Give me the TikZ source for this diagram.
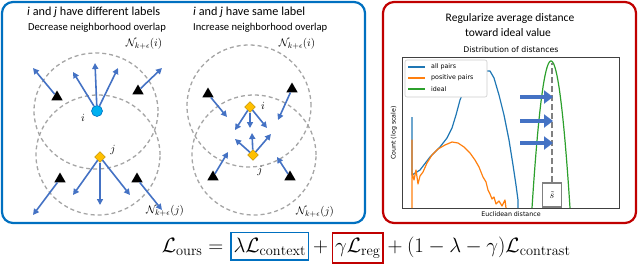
\documentclass[tikz,border=0pt]{standalone}
\usepackage{fontspec}
\usetikzlibrary{shapes.geometric,arrows.meta}
\newfontfamily\carl{Carlito}
\newfontfamily\dvs{DejaVu Sans}
\definecolor{boxblue}{RGB}{0,112,192}
\definecolor{boxred}{RGB}{192,0,0}
\definecolor{arrblue}{RGB}{68,114,196}
\definecolor{dotcyan}{RGB}{0,176,240}
\definecolor{diayel}{RGB}{255,192,0}
\definecolor{circgray}{RGB}{165,165,165}
\definecolor{pltblue}{RGB}{31,119,180}
\definecolor{pltorange}{RGB}{255,127,14}
\definecolor{pltgreen}{RGB}{44,160,44}
\begin{document}
\begin{tikzpicture}[x=1pt,y=-1pt,
  panel/.style={line width=2.2pt, rounded corners=11pt},
  dcirc/.style={draw=circgray, line width=1.3pt, dash pattern=on 4pt off 3pt},
  arr/.style={draw=arrblue, line width=1.6pt, -{Triangle[length=6pt,width=6pt]}},
  tri/.style={regular polygon, regular polygon sides=3, fill=black, minimum size=13pt, inner sep=0pt},
  bdot/.style={circle, fill=dotcyan, draw=boxblue, line width=0.6pt, minimum size=11pt, inner sep=0pt},
  ydia/.style={diamond, fill=diayel, draw=diayel!70!black, line width=0.4pt, minimum size=11pt, inner sep=0pt},
  ttl/.style={font=\carl\fontsize{12.2}{14}\selectfont, anchor=west, inner sep=0pt},
  sub/.style={font=\carl\fontsize{10.6}{12}\selectfont, anchor=west, inner sep=0pt},
  nlab/.style={font=\fontsize{10.95}{13}\selectfont, inner sep=0pt},
  ptxt/.style={font=\dvs\fontsize{6.3}{7.5}\selectfont, inner sep=0pt},
  bigarr/.style={draw=arrblue, line width=4.5pt, -{Triangle[length=9pt,width=13pt]}},
  eq/.style={font=\fontsize{20.74}{24}\selectfont, inner sep=0pt, outer sep=0pt}
]
\useasboundingbox (0,0) rectangle (640,263);
% panels
\draw[panel, boxblue] (2,2) rectangle (365,223);
\draw[panel, boxred] (383,2) rectangle (636,223);

% ---------- left panel ----------
\node[ttl] (tl1) at (27,12) {\textit{i} and \textit{j} have different labels};
\node[sub] (sl1) at (28,28) {Decrease neighborhood overlap};
\draw[dcirc] (96,111) ellipse [x radius=62pt, y radius=58pt];
\draw[dcirc] (98,155) ellipse [x radius=62pt, y radius=60pt];
\node[nlab] (ni1) at (144,44) {$\mathcal{N}_{k+\epsilon}(i)$};
\node[nlab] (nj1) at (165,211) {$\mathcal{N}_{k+\epsilon}(j)$};
\node[tri] (t1) at (57,97) {};
\node[tri] (t2) at (138,91) {};
\node[tri] (t3) at (60,179) {};
\node[tri] (t4) at (137,179) {};
\coordinate (a1) at (73,72);
\coordinate (a2) at (95,63);
\coordinate (a3) at (118,68);
\coordinate (a4) at (33,68);
\coordinate (a5) at (162,68);
\coordinate (b1) at (73,195);
\coordinate (b2) at (100,205);
\coordinate (b3) at (130,195);
\coordinate (b4) at (33,215);
\coordinate (b5) at (162,210);
\node[bdot] (i1) at (97,111) {};
\node[ydia] (j1) at (100,157) {};
\draw[arr] (i1) -- (a1);
\draw[arr] (i1) -- (a2);
\draw[arr] (i1) -- (a3);
\draw[arr] (t1) -- (a4);
\draw[arr] (t2) -- (a5);
\draw[arr] (j1) -- (b1);
\draw[arr] (j1) -- (b2);
\draw[arr] (j1) -- (b3);
\draw[arr] (t3) -- (b4);
\draw[arr] (t4) -- (b5);
\node[nlab] (li1) at (83,118) {$i$};
\node[nlab] (lj1) at (113,150) {$j$};

% ---------- middle panel ----------
\node[ttl] (tl2) at (193,12) {\textit{i} and \textit{j} have same label};
\node[sub] (sl2) at (193,28) {Increase neighborhood overlap};
\draw[dcirc] (249,106) ellipse [x radius=62pt, y radius=61pt];
\draw[dcirc] (254,155) ellipse [x radius=62pt, y radius=60pt];
\node[nlab] (ni2) at (297,44) {$\mathcal{N}_{k+\epsilon}(i)$};
\node[nlab] (nj2) at (315,212) {$\mathcal{N}_{k+\epsilon}(j)$};
\node[tri] (t5) at (208,94) {};
\node[tri] (t6) at (292,89) {};
\node[tri] (t7) at (213,177) {};
\node[tri] (t8) at (290,177) {};
\coordinate (c1) at (235,130);
\coordinate (c2) at (250,128);
\coordinate (c3) at (267,128);
\coordinate (c4) at (227,117);
\coordinate (c5) at (278,120);
\coordinate (d1) at (235,139);
\coordinate (d2) at (252,133);
\coordinate (d3) at (271,134);
\coordinate (d4) at (228,152);
\coordinate (d5) at (277,157);
\node[ydia] (i2) at (250,107) {};
\node[ydia] (j2) at (253,155) {};
\draw[arr] (i2) -- (c1);
\draw[arr] (i2) -- (c2);
\draw[arr] (i2) -- (c3);
\draw[arr] (t5) -- (c4);
\draw[arr] (t6) -- (c5);
\draw[arr] (j2) -- (d1);
\draw[arr] (j2) -- (d2);
\draw[arr] (j2) -- (d3);
\draw[arr] (t7) -- (d4);
\draw[arr] (t8) -- (d5);
\node[nlab] (li2) at (263,106) {$i$};
\node[nlab] (lj2) at (260,171) {$j$};

% ---------- right panel ----------
\node[font=\carl\fontsize{11.5}{13}\selectfont, inner sep=0pt] (rt1) at (510,18) {Regularize average distance};
\node[font=\carl\fontsize{11.5}{13}\selectfont, inner sep=0pt] (rt2) at (508,33) {toward ideal value};
\node[font=\dvs\fontsize{7.8}{9}\selectfont, inner sep=0pt] (pt) at (511,50) {Distribution of distances};
% axes
\draw[black!75, line width=0.6pt] (402,57) rectangle (619,208);
\node[ptxt, rotate=90] (yl) at (394,133) {Count (log scale)};
\node[ptxt] (xl) at (511,214) {Euclidean distance};
% curves
\draw[pltblue, line width=1.2pt, line join=round] (412,117) -- (412,175) -- (420,170) -- (430,157) -- (440,147) -- (447,138) -- (452,128) -- (456,115) -- (460,100) -- (465,88) -- (471,76) -- (476,71) -- (490,71) -- (494,78) -- (499,95) -- (504,115) -- (509,140) -- (513,165) -- (516,185) -- (518,200) -- (518,208);
\draw[pltorange, line width=1.2pt, line join=round] (412,208) -- (412,140) -- (412,172) -- (414,180) -- (416,170) -- (418,184) -- (420,176) -- (423,172) -- (427,163) -- (432,155) -- (438,149) -- (445,145) -- (452,142) -- (458,143) -- (464,147) -- (470,153) -- (475,160) -- (479,167) -- (483,177) -- (486,182) -- (488,190) -- (490,194) -- (492,199) -- (494,197) -- (496,204) -- (499,201) -- (502,206) -- (505,200) -- (506,208);
\draw[pltgreen, line width=1.2pt] plot[domain=532:570, samples=50] (\x, {61+147*((\x-551)/19)^2});
% ideal line and s-tilde
\node[draw=black!50, line width=1.5pt, fill=white, minimum width=19pt, minimum height=24pt, inner sep=0pt] (st) at (552,195) {$\tilde{s}$};
\coordinate (sttop) at (552,63);
\draw[black!50, line width=2.5pt, dash pattern=on 6pt off 3pt] (st.north) -- (sttop);
% arrows
\coordinate (ar1s) at (520,97);  \coordinate (ar1e) at (553,97);
\coordinate (ar2s) at (520,121); \coordinate (ar2e) at (553,121);
\coordinate (ar3s) at (520,143); \coordinate (ar3e) at (553,143);
\draw[bigarr] (ar1s) -- (ar1e);
\draw[bigarr] (ar2s) -- (ar2e);
\draw[bigarr] (ar3s) -- (ar3e);
% legend
\draw[black!20, line width=0.6pt, fill=white, rounded corners=2pt] (405,60) rectangle (487,97);
\coordinate (lg1a) at (408,67); \coordinate (lg1b) at (425,67);
\coordinate (lg2a) at (408,78); \coordinate (lg2b) at (425,78);
\coordinate (lg3a) at (408,89); \coordinate (lg3b) at (425,89);
\draw[pltblue, line width=1.2pt] (lg1a) -- (lg1b);
\draw[pltorange, line width=1.2pt] (lg2a) -- (lg2b);
\draw[pltgreen, line width=1.2pt] (lg3a) -- (lg3b);
\node[ptxt, anchor=west] (lt1) at (431,67) {all pairs};
\node[ptxt, anchor=west] (lt2) at (431,78) {positive pairs};
\node[ptxt, anchor=west] (lt3) at (431,89) {ideal};

% ---------- equation ----------
\node[eq, anchor=base east] (lhs) at (229,252) {$\mathcal{L}_{\mathrm{ours}} = {}$};
\node[eq, anchor=base west, draw=boxblue, line width=1.6pt, inner xsep=2.5pt, inner ysep=5pt] (ctx) at (231,252) {$\lambda\mathcal{L}_{\mathrm{context}}$};
\node[eq, anchor=base west] (p1) at (ctx.base east) {${}+{}$};
\node[eq, anchor=base west, draw=boxred, line width=1.6pt, inner xsep=2.5pt, inner ysep=5pt] (reg) at (p1.base east) {$\gamma\mathcal{L}_{\mathrm{reg}}$};
\node[eq, anchor=base west] (rest) at (reg.base east) {${}+(1-\lambda-\gamma)\mathcal{L}_{\mathrm{contrast}}$};
\end{tikzpicture}
\end{document}
